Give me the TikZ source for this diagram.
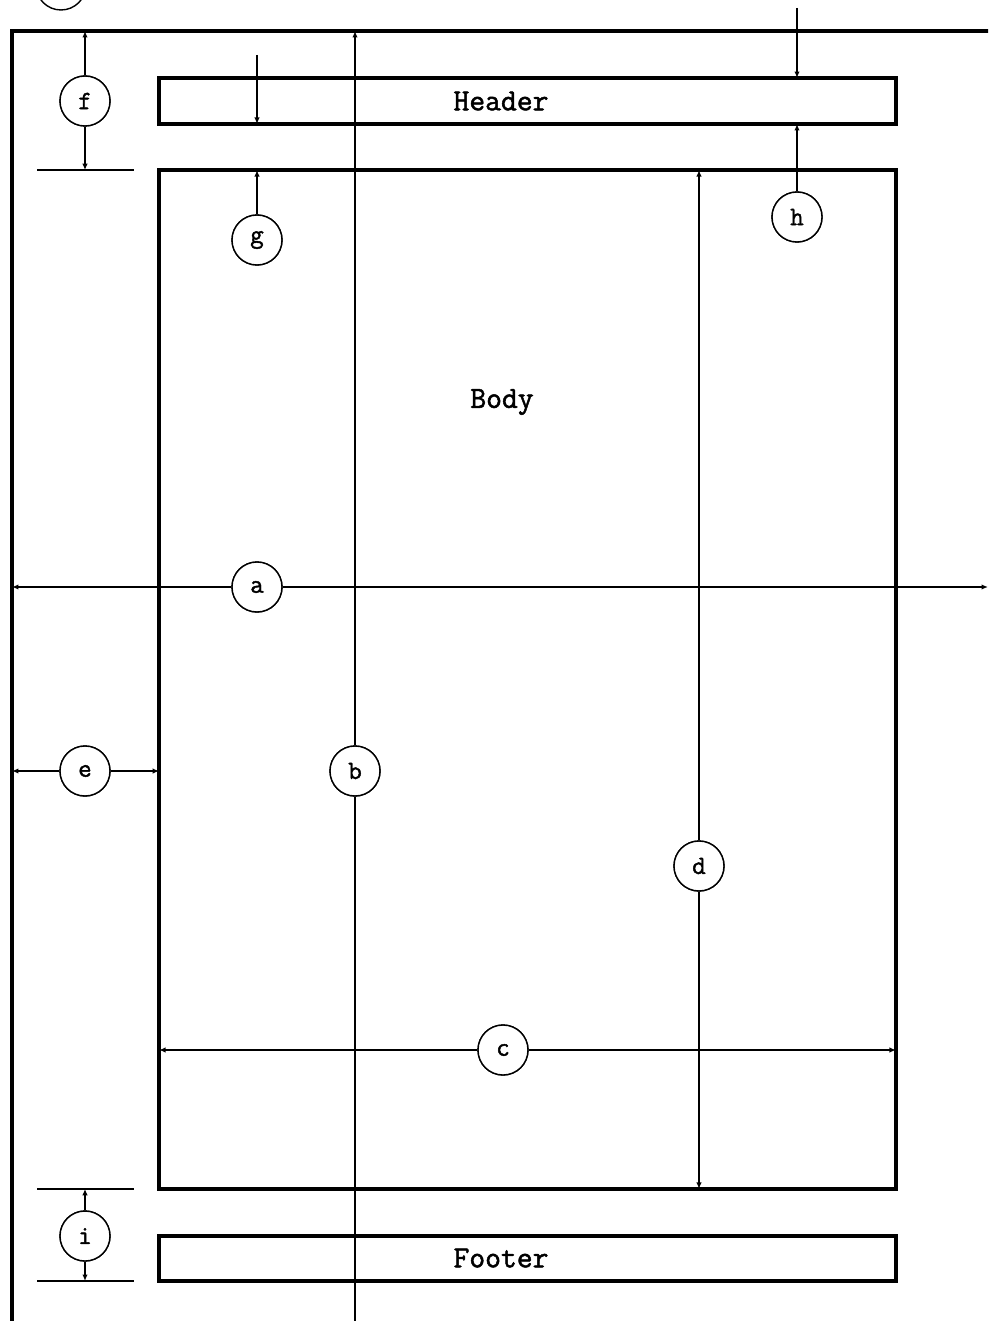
\documentclass[tikz,border=0pt]{standalone}
\usepackage{fontspec}
\setmonofont{Latin Modern Mono}[AutoFakeBold=1.6]
\usetikzlibrary{arrows.meta,positioning}

\begin{document}
\begin{tikzpicture}[
  x=0.02cm, y=-0.02cm,
  frame/.style={line width=2.2pt},
  area/.style={draw,line width=2.2pt,outer sep=0pt,inner sep=0pt,minimum width=14.74cm},
  tag/.style={draw,circle,line width=0.8pt,minimum size=1cm,inner sep=0pt,fill=white,font=\fontsize{15}{16}\selectfont\ttfamily\bfseries},
  txt/.style={font=\fontsize{17.5}{18}\selectfont\ttfamily\bfseries},
  arr/.style={-{Latex[length=1.3mm,width=1.1mm]},line width=1pt},
  rule/.style={line width=1pt}
]
\useasboundingbox (0,0) rectangle (988,1321);
\clip (0,0) rectangle (988,1321);
% page
\coordinate (pg) at (12,31);
\coordinate (pgright) at (988,31);
\coordinate (pgbot) at (12,1340);
\draw[frame] (pgbot) |- (1000,31);
% header, body, footer
\node[area,minimum height=0.92cm] (header) at (527.5,101) {};
\node[area,minimum height=20.38cm] (body) at (527.5,679.5) {};
\node[area,minimum height=0.9cm] (footer) at (527.5,1258.5) {};
\node[txt] (headtxt) at (501,101) {Header};
\node[txt] (bodytxt) at (502,402) {Body};
\node[txt] (foottxt) at (501,1258) {Footer};
% labels
\node[tag] (one) at (61,-15) {};
\node[tag] (f) at (85,101) {f};
\node[tag] (g) at (257,240) {g};
\node[tag] (h) at (797,217) {h};
\node[tag] (a) at (257,587) {a};
\node[tag] (e) at (85,771) {e};
\node[tag] (b) at (355,771) {b};
\node[tag] (d) at (699,866) {d};
\node[tag] (c) at (503,1050) {c};
\node[tag] (i) at (85,1236) {i};
\coordinate (gtop) at (257,55);
\coordinate (htop) at (797,8);
% dimensions
\draw[arr] (f) -- (f |- pg);
\draw[arr] (f) -- (f |- body.north);
\draw[rule] (f |- body.north) ++(-48,0) -- ++(97,0);
\draw[arr] (gtop) -- (g |- header.south);
\draw[arr] (g) -- (g |- body.north);
\draw[arr] (htop) -- (h |- header.north);
\draw[arr] (h) -- (h |- header.south);
\draw[arr] (a) -- (a -| pg);
\draw[arr] (a) -- (a -| pgright);
\draw[arr] (b) -- (b |- pg);
\draw[rule] (b) -- (b |- pgbot);
\draw[arr] (e) -- (e -| pg);
\draw[arr] (e) -- (e -| body.west);
\draw[arr] (d) -- (d |- body.north);
\draw[arr] (d) -- (d |- body.south);
\draw[arr] (c) -- (c -| body.west);
\draw[arr] (c) -- (c -| body.east);
\draw[arr] (i) -- (i |- body.south);
\draw[arr] (i) -- (i |- footer.south);
\draw[rule] (i |- body.south) ++(-48,0) -- ++(97,0);
\draw[rule] (i |- footer.south) ++(-48,0) -- ++(97,0);
% circles on top of the lines
\foreach \n in {a,b,c,d,e,f,g,h,i}
  \node[tag] at (\n) {\n};
\end{tikzpicture}
\end{document}
